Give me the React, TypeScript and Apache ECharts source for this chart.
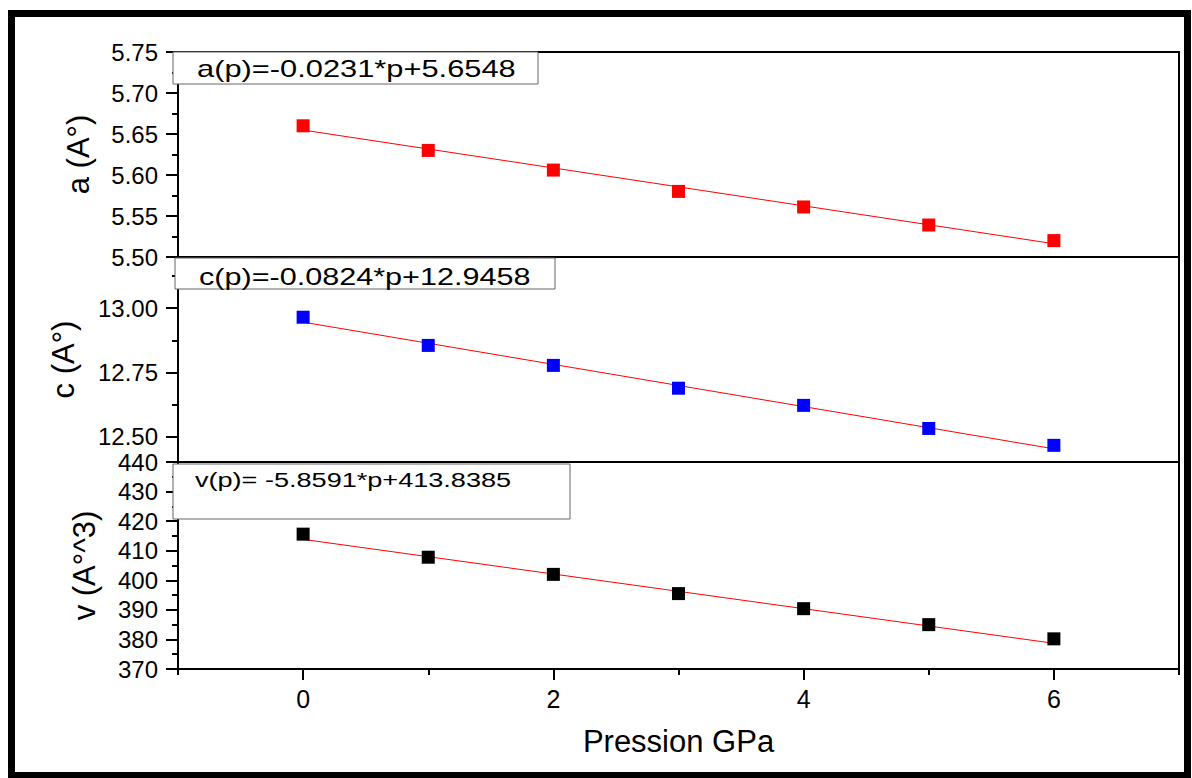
import React, { useEffect, useRef } from "react";
import * as echarts from "echarts";

// ---- data ----
const pressures = [0, 1, 2, 3, 4, 5, 6];
const aValues = [5.66, 5.63, 5.606, 5.58, 5.561, 5.539, 5.52];
const cValues = [12.965, 12.855, 12.777, 12.688, 12.621, 12.531, 12.465];
const vValues = [415.6, 407.8, 402.0, 395.5, 390.4, 385.0, 380.2];

// linear fits (endpoints at p = 0 and p = 6, from the printed equations)
const aFit = [[0, 5.6548], [6, 5.5162]];
const cFit = [[0, 12.9458], [6, 12.4514]];
const vFit = [[0, 413.8385], [6, 378.6839]];

const equations = [
  "a(p)=-0.0231*p+5.6548",
  "c(p)=-0.0824*p+12.9458",
  "v(p)= -5.8591*p+413.8385",
];

const xMajorTicks = [0, 2, 4, 6];
const xMinorTicks = [-1, 1, 3, 5, 7];
const cMajorTicks = [12.5, 12.75, 13.0];
const cMinorTicks = [12.625, 12.875, 13.125];

const FONT = "Liberation Sans, Arial, sans-serif";

export default function App() {
  const ref = useRef<HTMLDivElement>(null);

  useEffect(() => {
    if (!ref.current) return;
    const chart = echarts.init(ref.current, null, { renderer: "svg" });

    const pts = (vals: number[]) => pressures.map((p, i) => [p, vals[i]]);

    const hiddenX = (gridIndex: number) => ({
      type: "value",
      gridIndex,
      position: "bottom",
      min: -1,
      max: 7,
      interval: 1,
      axisLine: { show: false, onZero: false },
      axisTick: { show: false },
      axisLabel: { show: false },
      splitLine: { show: false },
    });

    const gridBase = {
      left: 178,
      right: 13,
      show: true,
      borderColor: "#000",
      borderWidth: 2,
      backgroundColor: "transparent",
    };

    const yLabel = {
      fontSize: 24,
      color: "#000",
      fontFamily: FONT,
      margin: 20,
    };

    const yName = (name: string, gap: number) => ({
      name,
      nameLocation: "middle",
      nameRotate: 90,
      nameGap: gap,
      nameTextStyle: { fontSize: 31, color: "#000", fontFamily: FONT },
    });

    const eqBox = (
      x: number,
      y: number,
      w: number,
      h: number,
      text: string,
      tx: number,
      ty: number,
      fs: number,
      sx: number
    ) => ({
      type: "group",
      z: 100,
      children: [
        {
          type: "rect",
          shape: { x, y, width: w, height: h },
          style: { fill: "#fff", stroke: "#666", lineWidth: 1 },
          z: 100,
        },
        {
          type: "text",
          x: tx,
          y: ty,
          scaleX: sx,
          z: 101,
          style: {
            text,
            fill: "#000",
            fontSize: fs,
            fontFamily: FONT,
            align: "left",
            verticalAlign: "middle",
          },
        },
      ],
    });

    const axisLineStyle = { show: true, onZero: false, lineStyle: { color: "#000", width: 2 } };

    chart.setOption({
      animation: false,
      backgroundColor: "#fff",
      textStyle: { fontFamily: FONT },
      grid: [
        { ...gridBase, top: 52, height: 205 },
        { ...gridBase, top: 257, height: 205 },
        { ...gridBase, top: 462, height: 207 },
      ],
      xAxis: [
        hiddenX(0),
        hiddenX(1),
        {
          type: "value",
          gridIndex: 2,
          position: "bottom",
          min: -1,
          max: 7,
          interval: 1,
          name: "Pression GPa",
          nameLocation: "middle",
          nameGap: 57,
          nameTextStyle: { fontSize: 31, color: "#000", fontFamily: FONT },
          axisLine: axisLineStyle,
          axisTick: {
            show: true,
            customValues: xMajorTicks,
            length: 11,
            lineStyle: { color: "#000", width: 2 },
          },
          axisLabel: {
            customValues: xMajorTicks,
            fontSize: 25,
            color: "#000",
            fontFamily: FONT,
            margin: 17,
          },
          splitLine: { show: false },
        },
        {
          type: "value",
          gridIndex: 2,
          position: "bottom",
          min: -1,
          max: 7,
          interval: 1,
          axisLine: { show: false, onZero: false },
          axisTick: {
            show: true,
            customValues: xMinorTicks,
            length: 6,
            lineStyle: { color: "#000", width: 2 },
          },
          axisLabel: { show: false },
          splitLine: { show: false },
        },
      ],
      yAxis: [
        {
          type: "value",
          gridIndex: 0,
          position: "left",
          min: 5.5,
          max: 5.75,
          interval: 0.05,
          ...yName("a (A°)", 84),
          axisLine: axisLineStyle,
          axisTick: { show: true, length: 12, lineStyle: { color: "#000", width: 2 } },
          minorTick: { show: true, splitNumber: 2, length: 6, lineStyle: { color: "#000", width: 2 } },
          axisLabel: { ...yLabel, formatter: (v: number) => v.toFixed(2) },
          splitLine: { show: false },
          minorSplitLine: { show: false },
        },
        {
          type: "value",
          gridIndex: 1,
          position: "left",
          min: 12.4,
          max: 13.2,
          ...yName("c (A°)", 99),
          axisLine: axisLineStyle,
          axisTick: {
            show: true,
            customValues: cMajorTicks,
            length: 12,
            lineStyle: { color: "#000", width: 2 },
          },
          axisLabel: {
            ...yLabel,
            customValues: cMajorTicks,
            formatter: (v: number) => v.toFixed(2),
          },
          splitLine: { show: false },
        },
        {
          type: "value",
          gridIndex: 1,
          position: "left",
          min: 12.4,
          max: 13.2,
          axisLine: { show: false, onZero: false },
          axisTick: {
            show: true,
            customValues: cMinorTicks,
            length: 6,
            lineStyle: { color: "#000", width: 2 },
          },
          axisLabel: { show: false },
          splitLine: { show: false },
        },
        {
          type: "value",
          gridIndex: 2,
          position: "left",
          min: 370,
          max: 440,
          interval: 10,
          ...yName("v (A°^3)", 78),
          axisLine: axisLineStyle,
          axisTick: { show: true, length: 12, lineStyle: { color: "#000", width: 2 } },
          minorTick: { show: true, splitNumber: 2, length: 6, lineStyle: { color: "#000", width: 2 } },
          axisLabel: { ...yLabel },
          splitLine: { show: false },
          minorSplitLine: { show: false },
        },
      ],
      series: [
        {
          type: "line",
          xAxisIndex: 0,
          yAxisIndex: 0,
          data: aFit,
          symbol: "none",
          lineStyle: { color: "#ff0000", width: 1 },
          z: 2,
        },
        {
          type: "scatter",
          xAxisIndex: 0,
          yAxisIndex: 0,
          data: pts(aValues),
          symbol: "rect",
          symbolSize: 13,
          itemStyle: { color: "#ff0000", opacity: 1 },
          z: 3,
        },
        {
          type: "line",
          xAxisIndex: 1,
          yAxisIndex: 1,
          data: cFit,
          symbol: "none",
          lineStyle: { color: "#ff0000", width: 1 },
          z: 2,
        },
        {
          type: "scatter",
          xAxisIndex: 1,
          yAxisIndex: 1,
          data: pts(cValues),
          symbol: "rect",
          symbolSize: 13,
          itemStyle: { color: "#0000ff", opacity: 1 },
          z: 3,
        },
        {
          type: "line",
          xAxisIndex: 2,
          yAxisIndex: 3,
          data: vFit,
          symbol: "none",
          lineStyle: { color: "#ff0000", width: 1 },
          z: 2,
        },
        {
          type: "scatter",
          xAxisIndex: 2,
          yAxisIndex: 3,
          data: pts(vValues),
          symbol: "rect",
          symbolSize: 13,
          itemStyle: { color: "#000", opacity: 1 },
          z: 3,
        },
      ],
      graphic: [
        {
          type: "rect",
          z: 200,
          shape: { x: 11.5, y: 13.5, width: 1176, height: 762 },
          style: { fill: "none", stroke: "#000", lineWidth: 7 },
        },
        eqBox(173, 52, 365, 32, equations[0], 197, 69, 23, 1.34),
        eqBox(175, 258, 380, 31, equations[1], 199, 277, 23, 1.33),
        eqBox(173, 464, 397, 55, equations[2], 195, 480, 21, 1.29),
      ],
    });

    return () => {
      chart.dispose();
    };
  }, []);

  return (
    <div
      ref={ref}
      style={{ position: "absolute", left: 0, top: 0, width: 1192, height: 778 }}
    />
  );
}
